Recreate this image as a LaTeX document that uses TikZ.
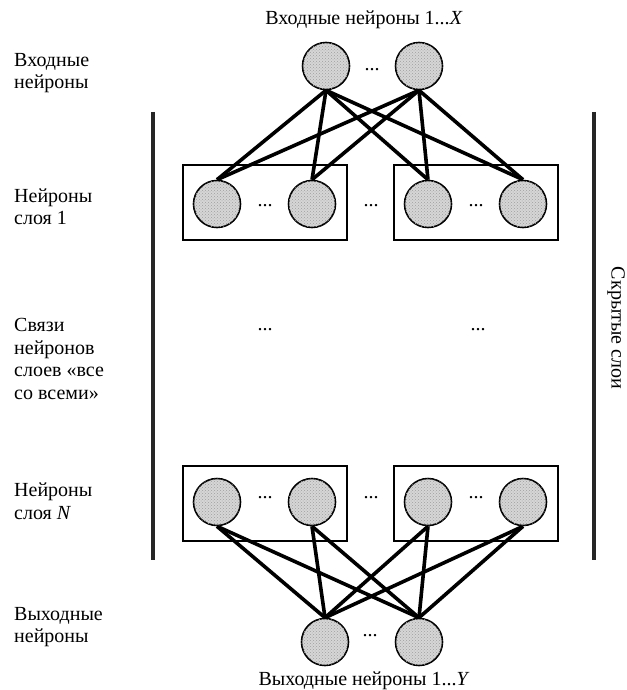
\documentclass[tikz,border=0pt]{standalone}
\usepackage{fontspec}
\setmainfont{Liberation Serif}
\usetikzlibrary{backgrounds,patterns}
\begin{document}
\begin{tikzpicture}[x=1pt,y=-1pt,
  every node/.style={font=\fontsize{20}{22.5}\selectfont},
  neuron/.style={circle, draw, line width=1.6pt, minimum size=47pt, inner sep=0pt,
    fill=black!16, postaction={pattern=crosshatch dots, pattern color=black!38}},
  layerbox/.style={draw, line width=1.6pt, minimum width=164pt, minimum height=75pt, inner sep=0pt},
  link/.style={line width=3.6pt},
  bracket/.style={line width=3.8pt, draw=black!85},
  lbl/.style={anchor=west, align=left, inner sep=0pt},
  dots/.style={inner sep=0pt}]
\useasboundingbox (0,0) rectangle (626,690);

% titles
\node (tin) at (364,20) {Входные нейроны 1...\textit{X}};
\node (tout) at (364,681) {Выходные нейроны 1...\textit{Y}};

% left labels
\node[lbl] (l1) at (14,73) {Входные\\нейроны};
\node[lbl] (l2) at (14,207) {Нейроны\\слоя 1};
\node[lbl] (l3) at (14,359) {Связи\\нейронов\\слоев «все\\со всеми»};
\node[lbl] (l4) at (14,501) {Нейроны\\слоя \textit{N}};
\node[lbl] (l5) at (14,627) {Выходные\\нейроны};

% boxes
\node[layerbox] (boxA1) at (265,202.5) {};
\node[layerbox] (boxA2) at (476,202.5) {};
\node[layerbox] (boxB1) at (265,503.5) {};
\node[layerbox] (boxB2) at (476,503.5) {};

% neurons
\node[neuron] (in1) at (326,66) {};
\node[neuron] (in2) at (419,66) {};
\node[neuron] (a1) at (217,204) {};
\node[neuron] (a2) at (312,204) {};
\node[neuron] (a3) at (428,204) {};
\node[neuron] (a4) at (523,204) {};
\node[neuron] (b1) at (217,502) {};
\node[neuron] (b2) at (312,502) {};
\node[neuron] (b3) at (428,502) {};
\node[neuron] (b4) at (523,502) {};
\node[neuron] (out1) at (325,642) {};
\node[neuron] (out2) at (419,642) {};

% dots
\node[dots] (d0) at (372,70) {...};
\node[dots] (d1) at (265,206) {...};
\node[dots] (d2) at (371,206) {...};
\node[dots] (d3) at (476,206) {...};
\node[dots] (d4) at (265,330) {...};
\node[dots] (d5) at (478,330) {...};
\node[dots] (d6) at (265,498) {...};
\node[dots] (d7) at (371,498) {...};
\node[dots] (d8) at (476,498) {...};
\node[dots] (d9) at (370,636) {...};

% hidden layer brackets
\coordinate (lt) at (153,112);
\coordinate (lb) at (153,560);
\coordinate (rt) at (594,112);
\coordinate (rb) at (594,560);
\draw[bracket] (lt) -- (lb);
\draw[bracket] (rt) -- (rb);
\node[rotate=-90] (hid) at (616,328) {Скрытые слои};

% links
\begin{scope}[on background layer]
\foreach \i in {in1,in2}
  \foreach \j in {a1,a2,a3,a4}
    \draw[link] (\i.south) -- (\j.north);
\foreach \i in {b1,b2,b3,b4}
  \foreach \j in {out1,out2}
    \draw[link] (\i.south) -- (\j.north);
\end{scope}
\end{tikzpicture}
\end{document}
